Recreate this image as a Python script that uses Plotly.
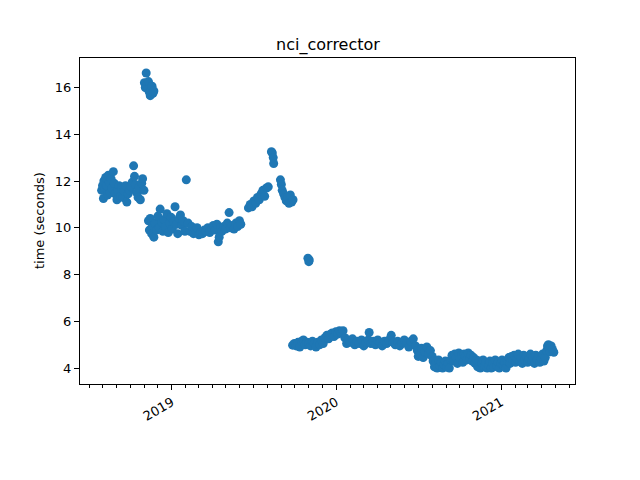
import plotly.graph_objects as go

# Early runs, mid 2018 (~11-12 s)
dates_a = ["2018-07-29", "2018-07-31", "2018-08-02", "2018-08-03", "2018-08-05", "2018-08-07",
           "2018-08-09", "2018-08-11", "2018-08-13", "2018-08-15", "2018-08-17", "2018-08-19",
           "2018-08-21", "2018-08-24", "2018-08-26", "2018-08-28", "2018-09-01", "2018-09-03",
           "2018-09-06", "2018-09-09", "2018-09-11", "2018-09-14", "2018-09-17", "2018-09-20",
           "2018-09-23", "2018-09-26", "2018-09-29", "2018-10-02", "2018-10-05", "2018-10-08",
           "2018-10-10", "2018-10-12", "2018-10-15", "2018-10-18", "2018-10-20", "2018-10-23",
           "2018-10-26", "2018-10-28", "2018-10-31"]
times_a = [11.6, 11.8, 11.25, 12.0, 11.6, 12.15, 11.8, 11.4, 12.25, 11.95, 11.5, 12.1,
           11.7, 12.4, 11.9, 11.45, 11.2, 11.6, 11.8, 11.35, 11.7, 11.3, 11.55, 11.8,
           11.1, 11.45, 11.6, 11.75, 11.95, 12.65, 12.2, 11.85, 11.5, 11.3, 11.7, 11.2,
           11.9, 12.1, 11.6]

# High burst, November 2018 (~16 s)
dates_b = ["2018-11-01", "2018-11-03", "2018-11-05", "2018-11-06", "2018-11-08", "2018-11-10",
           "2018-11-12", "2018-11-14", "2018-11-16", "2018-11-18", "2018-11-20", "2018-11-22"]
times_b = [16.2, 16.0, 16.62, 16.1, 15.95, 16.25, 15.8, 15.65, 15.9, 16.05, 15.75, 15.85]

# Late 2018 to mid 2019 (~10 s)
dates_c = ["2018-11-10", "2018-11-12", "2018-11-14", "2018-11-17", "2018-11-19", "2018-11-22",
           "2018-11-25", "2018-11-28", "2018-12-01", "2018-12-04", "2018-12-06", "2018-12-09",
           "2018-12-12", "2018-12-15", "2018-12-18", "2018-12-21", "2018-12-24", "2018-12-27",
           "2018-12-30", "2019-01-02", "2019-01-05", "2019-01-08", "2019-01-11", "2019-01-14",
           "2019-01-17", "2019-01-20", "2019-01-23", "2019-01-26", "2019-01-30", "2019-02-02",
           "2019-02-06", "2019-02-10", "2019-02-14", "2019-02-18", "2019-02-22", "2019-02-26",
           "2019-03-02", "2019-03-06", "2019-03-10", "2019-03-14", "2019-03-18", "2019-03-22",
           "2019-03-26", "2019-03-30", "2019-04-03", "2019-04-07", "2019-04-11", "2019-04-14",
           "2019-04-16", "2019-04-19", "2019-04-22", "2019-04-26", "2019-04-30", "2019-05-04",
           "2019-05-08", "2019-05-11", "2019-05-15", "2019-05-19", "2019-05-23", "2019-05-27",
           "2019-05-31", "2019-06-03"]
times_c = [10.3, 9.9, 10.4, 9.75, 10.1, 9.6, 10.2, 9.9, 10.5, 10.0, 10.8, 10.25,
           9.85, 10.35, 10.05, 10.6, 9.8, 10.2, 10.45, 9.95, 10.25, 10.9, 10.15, 9.75,
           10.4, 10.55, 10.1, 10.3, 9.85, 12.05, 10.2, 9.85, 10.05, 9.75, 9.9, 10.0,
           9.7, 9.8, 9.75, 9.9, 9.85, 10.0, 9.8, 9.95, 10.1, 9.9, 10.15, 9.4,
           9.6, 10.0, 9.85, 10.05, 9.95, 10.2, 10.65, 10.0, 10.1, 9.95, 10.2, 10.05,
           10.3, 10.15]

# Summer / autumn 2019 (~11-13 s), and one ~8.6 s group
dates_d = ["2019-06-20", "2019-06-24", "2019-06-28", "2019-07-02", "2019-07-06", "2019-07-10",
           "2019-07-14", "2019-07-18", "2019-07-22", "2019-07-26", "2019-07-30", "2019-08-03",
           "2019-08-10", "2019-08-12", "2019-08-14", "2019-08-15", "2019-08-30", "2019-09-01",
           "2019-09-03", "2019-09-06", "2019-09-09", "2019-09-12", "2019-09-15", "2019-09-18",
           "2019-09-21", "2019-09-24", "2019-09-27", "2019-10-30", "2019-11-01", "2019-11-02"]
times_d = [10.85, 11.0, 10.9, 11.15, 11.05, 11.3, 11.2, 11.45, 11.6, 11.35, 11.7, 11.75,
           13.25, 13.2, 13.0, 12.75, 12.05, 11.85, 11.6, 11.45, 11.3, 11.15, 11.3, 11.05,
           11.4, 11.1, 11.2, 8.7, 8.55, 8.62]

# Late 2019 to mid 2020 (~5 s)
dates_e = ["2019-09-26", "2019-09-30", "2019-10-04", "2019-10-08", "2019-10-12", "2019-10-16",
           "2019-10-20", "2019-10-24", "2019-10-28", "2019-11-01", "2019-11-05", "2019-11-09",
           "2019-11-13", "2019-11-17", "2019-11-21", "2019-11-25", "2019-11-29", "2019-12-03",
           "2019-12-07", "2019-12-11", "2019-12-15", "2019-12-19", "2019-12-23", "2019-12-27",
           "2019-12-31", "2020-01-04", "2020-01-08", "2020-01-12", "2020-01-16", "2020-01-20",
           "2020-01-24", "2020-01-28", "2020-02-01", "2020-02-06", "2020-02-11", "2020-02-16",
           "2020-02-21", "2020-02-26", "2020-03-02", "2020-03-07", "2020-03-12", "2020-03-14",
           "2020-03-18", "2020-03-23", "2020-03-28", "2020-04-02", "2020-04-07", "2020-04-12",
           "2020-04-17", "2020-04-22", "2020-04-27", "2020-05-02", "2020-05-06", "2020-05-11",
           "2020-05-16", "2020-05-21", "2020-05-26", "2020-05-31", "2020-06-05", "2020-06-10",
           "2020-06-15", "2020-06-20", "2020-06-25", "2020-06-29", "2020-07-01", "2020-07-04",
           "2020-07-08", "2020-07-12", "2020-07-16", "2020-07-20", "2020-07-24", "2020-07-28",
           "2020-08-01"]
times_e = [4.98, 5.05, 4.95, 5.1, 4.9, 5.15, 5.2, 5.0, 5.1, 5.05, 4.95, 5.15,
           5.05, 4.9, 5.1, 5.0, 5.2, 5.05, 5.3, 5.4, 5.25, 5.45, 5.5, 5.35,
           5.55, 5.45, 5.6, 5.5, 5.6, 5.3, 5.05, 5.2, 5.1, 5.25, 5.0, 5.15,
           5.05, 5.2, 4.95, 5.1, 5.2, 5.52, 5.05, 5.15, 5.0, 5.2, 5.1, 4.95,
           5.15, 5.05, 5.2, 5.4, 5.1, 5.0, 5.15, 4.95, 5.1, 5.2, 5.05, 4.9,
           5.15, 5.25, 4.95, 4.75, 4.5, 4.6, 4.85, 4.45, 4.7, 4.9, 4.6, 4.75,
           4.5]

# Mid 2020 to spring 2021 (~4-5 s)
dates_f = ["2020-08-03", "2020-08-06", "2020-08-09", "2020-08-12", "2020-08-15", "2020-08-18",
           "2020-08-21", "2020-08-24", "2020-08-27", "2020-08-30", "2020-09-02", "2020-09-05",
           "2020-09-08", "2020-09-11", "2020-09-14", "2020-09-17", "2020-09-20", "2020-09-23",
           "2020-09-26", "2020-09-29", "2020-10-02", "2020-10-05", "2020-10-08", "2020-10-11",
           "2020-10-14", "2020-10-17", "2020-10-20", "2020-10-23", "2020-10-26", "2020-10-29",
           "2020-11-01", "2020-11-04", "2020-11-07", "2020-11-10", "2020-11-13", "2020-11-16",
           "2020-11-19", "2020-11-22", "2020-11-25", "2020-11-28", "2020-12-01", "2020-12-04",
           "2020-12-07", "2020-12-10", "2020-12-13", "2020-12-16", "2020-12-19", "2020-12-22",
           "2020-12-25", "2020-12-28", "2020-12-31", "2021-01-03", "2021-01-06", "2021-01-09",
           "2021-01-12", "2021-01-15", "2021-01-18", "2021-01-21", "2021-01-24", "2021-01-27",
           "2021-01-30", "2021-02-02", "2021-02-05", "2021-02-08", "2021-02-11", "2021-02-14",
           "2021-02-17", "2021-02-20", "2021-02-23", "2021-02-26", "2021-03-01", "2021-03-04",
           "2021-03-07", "2021-03-10", "2021-03-13", "2021-03-16", "2021-03-19", "2021-03-22",
           "2021-03-25", "2021-03-28", "2021-03-31", "2021-04-03", "2021-04-06", "2021-04-09",
           "2021-04-12", "2021-04-14", "2021-04-16", "2021-04-18", "2021-04-20", "2021-04-22",
           "2021-04-25", "2021-04-28"]
times_f = [4.3, 4.05, 4.2, 4.0, 4.35, 4.1, 4.25, 4.0, 4.15, 4.3, 4.05, 4.2,
           4.0, 4.35, 4.55, 4.3, 4.6, 4.45, 4.2, 4.65, 4.4, 4.55, 4.25, 4.6,
           4.5, 4.35, 4.65, 4.4, 4.55, 4.3, 4.45, 4.2, 4.35, 4.05, 4.3, 4.0,
           4.2, 4.35, 4.05, 4.25, 4.0, 4.15, 4.3, 4.0, 4.2, 4.05, 4.35, 4.1,
           4.25, 4.0, 4.2, 4.35, 4.1, 4.25, 4.0, 4.3, 4.45, 4.2, 4.5, 4.35,
           4.55, 4.25, 4.4, 4.6, 4.3, 4.45, 4.2, 4.55, 4.35, 4.5, 4.25, 4.4,
           4.6, 4.3, 4.45, 4.2, 4.55, 4.35, 4.5, 4.25, 4.4, 4.6, 4.3, 4.45,
           4.75, 4.95, 5.0, 4.85, 4.7, 4.95, 4.8, 4.68]

year_ticks = ["2019-01-01", "2020-01-01", "2021-01-01"]
year_labels = ["2019", "2020", "2021"]
y_ticks = [4, 6, 8, 10, 12, 14, 16]

dates = dates_a + dates_b + dates_c + dates_d + dates_e + dates_f
times = times_a + times_b + times_c + times_d + times_e + times_f

BLUE = "#1f77b4"
FONT = "DejaVu Sans"

# The page body has an 8px default margin; the figure is sized/offset to compensate.
OFF = 8
W, H = 640 - OFF, 480 - OFF
L, R, T, B = 80 - OFF, W + OFF - 575, 58 - OFF, H + OFF - 384

fig = go.Figure(go.Scatter(
    x=dates, y=times, mode="markers",
    marker=dict(color=BLUE, size=9, line=dict(width=0)),
    showlegend=False,
))

axis_common = dict(
    showline=True, linecolor="black", linewidth=1, mirror=True,
    ticks="outside", ticklen=5, tickwidth=1, tickcolor="black",
    showgrid=False, zeroline=False,
    tickfont=dict(family=FONT, size=13, color="black"),
)

fig.update_xaxes(
    type="date", range=["2018-06-11", "2021-06-14"],
    tickmode="array", tickvals=year_ticks, ticktext=year_labels,
    tickangle=-30,
    minor=dict(ticks="outside", ticklen=3, tickcolor="black", dtick="M1",
               tick0="2019-01-01", showgrid=False),
    **axis_common,
)
fig.update_yaxes(
    range=[3.32, 17.26], tickmode="array", tickvals=y_ticks,
    **axis_common,
)

pw = W - L - R
fig.update_layout(
    width=W, height=H,
    margin=dict(l=L, r=R, t=T, b=B),
    paper_bgcolor="white", plot_bgcolor="white",
    title=dict(text="nci_corrector", x=(328 - OFF) / W, xanchor="center",
               y=1 - (44 - OFF) / H, yanchor="middle",
               font=dict(family=FONT, size=16, color="black")),
    font=dict(family=FONT, color="black"),
    annotations=[dict(
        text="time (seconds)", xref="paper", yref="paper",
        x=-(80 - 39) / pw, y=0.5, textangle=-90, showarrow=False,
        xanchor="center", yanchor="middle",
        font=dict(family=FONT, size=13, color="black"),
    )],
)

fig.write_html("out.html")
